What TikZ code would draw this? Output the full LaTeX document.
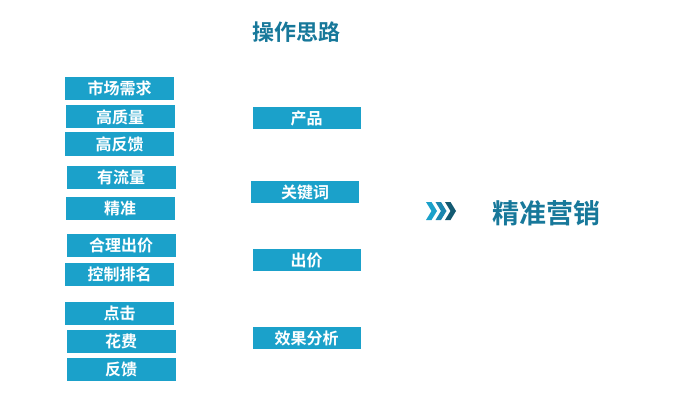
\documentclass[tikz,border=0pt]{standalone}
\usepackage{fontspec}
\usepackage{xcolor}
\usepackage{tikz}
\usetikzlibrary{positioning}
\newfontfamily\cjk{Noto Sans CJK SC}[BoldFont={* Bold}]
\definecolor{boxblue}{HTML}{1BA1CA}
\definecolor{titleteal}{HTML}{17789A}
\definecolor{chevmid}{HTML}{1C86AE}
\definecolor{chevdark}{HTML}{135A72}

\begin{document}
\begin{tikzpicture}[x=1pt, y=-1pt,
  tag/.style={fill=boxblue, text=white, inner sep=0pt, minimum width=109pt, minimum height=23pt, font=\cjk\bfseries\fontsize{16}{16}\selectfont},
  step box/.style={tag, minimum width=108pt, minimum height=22pt},
  heading/.style={text=titleteal, inner sep=0pt, font=\cjk\bfseries\fontsize{22}{22}\selectfont}]
\useasboundingbox (0,0) rectangle (685,401);
\node[heading] (title) at (296, 32) {操作思路};
% left column
\foreach \name/\x/\y/\txt in {need/119.5/88.5/市场需求, quality/120/117/高质量, feedback/119.5/144/高反馈,
    traffic/121/177.3/有流量, precise/120/208.3/精准, bid/121/245.5/合理出价, rank/119.5/274.7/控制排名,
    click/119.5/313.7/点击, cost/121/341/花费, reply/121/369/反馈}
  \node[tag] (\name) at (\x, \y) {\txt};
% middle column
\node[step box] (product) at (306.7, 118) {产品};
\node[step box] (keyword) at (305, 192) {关键词};
\node[step box] (price) at (306.7, 260) {出价};
\node[step box] (effect) at (306.7, 338) {效果分析};
% chevrons
\foreach \cx/\col in {426/boxblue, 435.5/chevmid, 445/chevdark}
  \fill[\col] (\cx, 202) -- ++(5.5, 0) -- ++(5.5, 9) -- ++(-5.5, 9) -- ++(-5.5, 0) -- ++(5.5, -9) -- cycle;
\node[heading, font=\cjk\bfseries\fontsize{27}{27}\selectfont] (goal) at (546, 213) {精准营销};
\end{tikzpicture}
\end{document}
